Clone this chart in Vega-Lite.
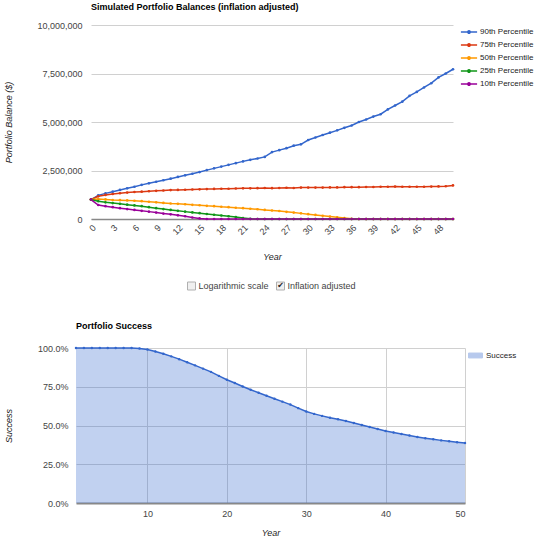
{
  "$schema": "https://vega.github.io/schema/vega-lite/v6.json",
  "background": "white",
  "padding": {"left": 4, "top": 3, "right": 0, "bottom": 0},
  "config": {
    "font": "Liberation Sans",
    "view": {"stroke": null},
    "axis": {
      "labelFont": "Liberation Sans",
      "labelFontSize": 9,
      "labelColor": "#444",
      "titleFont": "Liberation Sans",
      "titleFontSize": 9,
      "titleFontStyle": "italic",
      "titleFontWeight": "normal",
      "titleColor": "#222",
      "ticks": false,
      "domain": false,
      "gridColor": "#d0d0d0"
    },
    "title": {"font": "Liberation Sans", "fontSize": 9, "fontWeight": "bold", "anchor": "start", "frame": "group", "color": "#000"},
    "legend": {"labelFont": "Liberation Sans", "labelFontSize": 8, "labelColor": "#222", "title": null}
  },
  "resolve": {"scale": {"color": "independent"}, "legend": {"color": "independent"}},
  "spacing": 18,
  "vconcat": [
    {
      "spacing": -73,
      "hconcat": [
        {"width": 1, "height": 1, "data": {"values": []}, "mark": "point"},
        {
          "width": 362,
          "height": 194,
          "title": {"text": "Simulated Portfolio Balances (inflation adjusted)", "offset": 9},
          "data": {
            "values": [
              {"Year": 0, "Series": "90th Percentile", "Balance": 1000000},
              {"Year": 1, "Series": "90th Percentile", "Balance": 1220000},
              {"Year": 2, "Series": "90th Percentile", "Balance": 1320000},
              {"Year": 3, "Series": "90th Percentile", "Balance": 1410000},
              {"Year": 4, "Series": "90th Percentile", "Balance": 1500000},
              {"Year": 5, "Series": "90th Percentile", "Balance": 1580000},
              {"Year": 6, "Series": "90th Percentile", "Balance": 1660000},
              {"Year": 7, "Series": "90th Percentile", "Balance": 1760000},
              {"Year": 8, "Series": "90th Percentile", "Balance": 1840000},
              {"Year": 9, "Series": "90th Percentile", "Balance": 1920000},
              {"Year": 10, "Series": "90th Percentile", "Balance": 2000000},
              {"Year": 11, "Series": "90th Percentile", "Balance": 2080000},
              {"Year": 12, "Series": "90th Percentile", "Balance": 2170000},
              {"Year": 13, "Series": "90th Percentile", "Balance": 2250000},
              {"Year": 14, "Series": "90th Percentile", "Balance": 2330000},
              {"Year": 15, "Series": "90th Percentile", "Balance": 2420000},
              {"Year": 16, "Series": "90th Percentile", "Balance": 2520000},
              {"Year": 17, "Series": "90th Percentile", "Balance": 2610000},
              {"Year": 18, "Series": "90th Percentile", "Balance": 2700000},
              {"Year": 19, "Series": "90th Percentile", "Balance": 2790000},
              {"Year": 20, "Series": "90th Percentile", "Balance": 2880000},
              {"Year": 21, "Series": "90th Percentile", "Balance": 2970000},
              {"Year": 22, "Series": "90th Percentile", "Balance": 3050000},
              {"Year": 23, "Series": "90th Percentile", "Balance": 3120000},
              {"Year": 24, "Series": "90th Percentile", "Balance": 3200000},
              {"Year": 25, "Series": "90th Percentile", "Balance": 3450000},
              {"Year": 26, "Series": "90th Percentile", "Balance": 3550000},
              {"Year": 27, "Series": "90th Percentile", "Balance": 3650000},
              {"Year": 28, "Series": "90th Percentile", "Balance": 3780000},
              {"Year": 29, "Series": "90th Percentile", "Balance": 3850000},
              {"Year": 30, "Series": "90th Percentile", "Balance": 4070000},
              {"Year": 31, "Series": "90th Percentile", "Balance": 4200000},
              {"Year": 32, "Series": "90th Percentile", "Balance": 4330000},
              {"Year": 33, "Series": "90th Percentile", "Balance": 4450000},
              {"Year": 34, "Series": "90th Percentile", "Balance": 4570000},
              {"Year": 35, "Series": "90th Percentile", "Balance": 4700000},
              {"Year": 36, "Series": "90th Percentile", "Balance": 4820000},
              {"Year": 37, "Series": "90th Percentile", "Balance": 5000000},
              {"Year": 38, "Series": "90th Percentile", "Balance": 5130000},
              {"Year": 39, "Series": "90th Percentile", "Balance": 5280000},
              {"Year": 40, "Series": "90th Percentile", "Balance": 5400000},
              {"Year": 41, "Series": "90th Percentile", "Balance": 5650000},
              {"Year": 42, "Series": "90th Percentile", "Balance": 5850000},
              {"Year": 43, "Series": "90th Percentile", "Balance": 6050000},
              {"Year": 44, "Series": "90th Percentile", "Balance": 6350000},
              {"Year": 45, "Series": "90th Percentile", "Balance": 6550000},
              {"Year": 46, "Series": "90th Percentile", "Balance": 6780000},
              {"Year": 47, "Series": "90th Percentile", "Balance": 7000000},
              {"Year": 48, "Series": "90th Percentile", "Balance": 7300000},
              {"Year": 49, "Series": "90th Percentile", "Balance": 7500000},
              {"Year": 50, "Series": "90th Percentile", "Balance": 7720000},
              {"Year": 0, "Series": "75th Percentile", "Balance": 1000000},
              {"Year": 1, "Series": "75th Percentile", "Balance": 1170000},
              {"Year": 2, "Series": "75th Percentile", "Balance": 1240000},
              {"Year": 3, "Series": "75th Percentile", "Balance": 1290000},
              {"Year": 4, "Series": "75th Percentile", "Balance": 1330000},
              {"Year": 5, "Series": "75th Percentile", "Balance": 1360000},
              {"Year": 6, "Series": "75th Percentile", "Balance": 1390000},
              {"Year": 7, "Series": "75th Percentile", "Balance": 1410000},
              {"Year": 8, "Series": "75th Percentile", "Balance": 1430000},
              {"Year": 9, "Series": "75th Percentile", "Balance": 1450000},
              {"Year": 10, "Series": "75th Percentile", "Balance": 1470000},
              {"Year": 11, "Series": "75th Percentile", "Balance": 1490000},
              {"Year": 12, "Series": "75th Percentile", "Balance": 1500000},
              {"Year": 13, "Series": "75th Percentile", "Balance": 1510000},
              {"Year": 14, "Series": "75th Percentile", "Balance": 1520000},
              {"Year": 15, "Series": "75th Percentile", "Balance": 1530000},
              {"Year": 16, "Series": "75th Percentile", "Balance": 1540000},
              {"Year": 17, "Series": "75th Percentile", "Balance": 1550000},
              {"Year": 18, "Series": "75th Percentile", "Balance": 1560000},
              {"Year": 19, "Series": "75th Percentile", "Balance": 1560000},
              {"Year": 20, "Series": "75th Percentile", "Balance": 1570000},
              {"Year": 21, "Series": "75th Percentile", "Balance": 1580000},
              {"Year": 22, "Series": "75th Percentile", "Balance": 1580000},
              {"Year": 23, "Series": "75th Percentile", "Balance": 1590000},
              {"Year": 24, "Series": "75th Percentile", "Balance": 1600000},
              {"Year": 25, "Series": "75th Percentile", "Balance": 1590000},
              {"Year": 26, "Series": "75th Percentile", "Balance": 1600000},
              {"Year": 27, "Series": "75th Percentile", "Balance": 1610000},
              {"Year": 28, "Series": "75th Percentile", "Balance": 1600000},
              {"Year": 29, "Series": "75th Percentile", "Balance": 1620000},
              {"Year": 30, "Series": "75th Percentile", "Balance": 1620000},
              {"Year": 31, "Series": "75th Percentile", "Balance": 1620000},
              {"Year": 32, "Series": "75th Percentile", "Balance": 1620000},
              {"Year": 33, "Series": "75th Percentile", "Balance": 1630000},
              {"Year": 34, "Series": "75th Percentile", "Balance": 1630000},
              {"Year": 35, "Series": "75th Percentile", "Balance": 1640000},
              {"Year": 36, "Series": "75th Percentile", "Balance": 1640000},
              {"Year": 37, "Series": "75th Percentile", "Balance": 1640000},
              {"Year": 38, "Series": "75th Percentile", "Balance": 1650000},
              {"Year": 39, "Series": "75th Percentile", "Balance": 1650000},
              {"Year": 40, "Series": "75th Percentile", "Balance": 1660000},
              {"Year": 41, "Series": "75th Percentile", "Balance": 1660000},
              {"Year": 42, "Series": "75th Percentile", "Balance": 1670000},
              {"Year": 43, "Series": "75th Percentile", "Balance": 1660000},
              {"Year": 44, "Series": "75th Percentile", "Balance": 1660000},
              {"Year": 45, "Series": "75th Percentile", "Balance": 1660000},
              {"Year": 46, "Series": "75th Percentile", "Balance": 1660000},
              {"Year": 47, "Series": "75th Percentile", "Balance": 1670000},
              {"Year": 48, "Series": "75th Percentile", "Balance": 1680000},
              {"Year": 49, "Series": "75th Percentile", "Balance": 1690000},
              {"Year": 50, "Series": "75th Percentile", "Balance": 1730000},
              {"Year": 0, "Series": "50th Percentile", "Balance": 1000000},
              {"Year": 1, "Series": "50th Percentile", "Balance": 1030000},
              {"Year": 2, "Series": "50th Percentile", "Balance": 1010000},
              {"Year": 3, "Series": "50th Percentile", "Balance": 980000},
              {"Year": 4, "Series": "50th Percentile", "Balance": 970000},
              {"Year": 5, "Series": "50th Percentile", "Balance": 960000},
              {"Year": 6, "Series": "50th Percentile", "Balance": 940000},
              {"Year": 7, "Series": "50th Percentile", "Balance": 920000},
              {"Year": 8, "Series": "50th Percentile", "Balance": 890000},
              {"Year": 9, "Series": "50th Percentile", "Balance": 860000},
              {"Year": 10, "Series": "50th Percentile", "Balance": 830000},
              {"Year": 11, "Series": "50th Percentile", "Balance": 800000},
              {"Year": 12, "Series": "50th Percentile", "Balance": 780000},
              {"Year": 13, "Series": "50th Percentile", "Balance": 760000},
              {"Year": 14, "Series": "50th Percentile", "Balance": 730000},
              {"Year": 15, "Series": "50th Percentile", "Balance": 710000},
              {"Year": 16, "Series": "50th Percentile", "Balance": 680000},
              {"Year": 17, "Series": "50th Percentile", "Balance": 660000},
              {"Year": 18, "Series": "50th Percentile", "Balance": 630000},
              {"Year": 19, "Series": "50th Percentile", "Balance": 610000},
              {"Year": 20, "Series": "50th Percentile", "Balance": 580000},
              {"Year": 21, "Series": "50th Percentile", "Balance": 560000},
              {"Year": 22, "Series": "50th Percentile", "Balance": 530000},
              {"Year": 23, "Series": "50th Percentile", "Balance": 500000},
              {"Year": 24, "Series": "50th Percentile", "Balance": 470000},
              {"Year": 25, "Series": "50th Percentile", "Balance": 440000},
              {"Year": 26, "Series": "50th Percentile", "Balance": 410000},
              {"Year": 27, "Series": "50th Percentile", "Balance": 370000},
              {"Year": 28, "Series": "50th Percentile", "Balance": 330000},
              {"Year": 29, "Series": "50th Percentile", "Balance": 290000},
              {"Year": 30, "Series": "50th Percentile", "Balance": 250000},
              {"Year": 31, "Series": "50th Percentile", "Balance": 210000},
              {"Year": 32, "Series": "50th Percentile", "Balance": 170000},
              {"Year": 33, "Series": "50th Percentile", "Balance": 130000},
              {"Year": 34, "Series": "50th Percentile", "Balance": 90000},
              {"Year": 35, "Series": "50th Percentile", "Balance": 50000},
              {"Year": 36, "Series": "50th Percentile", "Balance": 10000},
              {"Year": 37, "Series": "50th Percentile", "Balance": 0},
              {"Year": 38, "Series": "50th Percentile", "Balance": 0},
              {"Year": 39, "Series": "50th Percentile", "Balance": 0},
              {"Year": 40, "Series": "50th Percentile", "Balance": 0},
              {"Year": 41, "Series": "50th Percentile", "Balance": 0},
              {"Year": 42, "Series": "50th Percentile", "Balance": 0},
              {"Year": 43, "Series": "50th Percentile", "Balance": 0},
              {"Year": 44, "Series": "50th Percentile", "Balance": 0},
              {"Year": 45, "Series": "50th Percentile", "Balance": 0},
              {"Year": 46, "Series": "50th Percentile", "Balance": 0},
              {"Year": 47, "Series": "50th Percentile", "Balance": 0},
              {"Year": 48, "Series": "50th Percentile", "Balance": 0},
              {"Year": 49, "Series": "50th Percentile", "Balance": 0},
              {"Year": 50, "Series": "50th Percentile", "Balance": 0},
              {"Year": 0, "Series": "25th Percentile", "Balance": 1000000},
              {"Year": 1, "Series": "25th Percentile", "Balance": 920000},
              {"Year": 2, "Series": "25th Percentile", "Balance": 860000},
              {"Year": 3, "Series": "25th Percentile", "Balance": 820000},
              {"Year": 4, "Series": "25th Percentile", "Balance": 780000},
              {"Year": 5, "Series": "25th Percentile", "Balance": 740000},
              {"Year": 6, "Series": "25th Percentile", "Balance": 700000},
              {"Year": 7, "Series": "25th Percentile", "Balance": 660000},
              {"Year": 8, "Series": "25th Percentile", "Balance": 610000},
              {"Year": 9, "Series": "25th Percentile", "Balance": 560000},
              {"Year": 10, "Series": "25th Percentile", "Balance": 510000},
              {"Year": 11, "Series": "25th Percentile", "Balance": 470000},
              {"Year": 12, "Series": "25th Percentile", "Balance": 420000},
              {"Year": 13, "Series": "25th Percentile", "Balance": 380000},
              {"Year": 14, "Series": "25th Percentile", "Balance": 340000},
              {"Year": 15, "Series": "25th Percentile", "Balance": 300000},
              {"Year": 16, "Series": "25th Percentile", "Balance": 260000},
              {"Year": 17, "Series": "25th Percentile", "Balance": 220000},
              {"Year": 18, "Series": "25th Percentile", "Balance": 180000},
              {"Year": 19, "Series": "25th Percentile", "Balance": 140000},
              {"Year": 20, "Series": "25th Percentile", "Balance": 100000},
              {"Year": 21, "Series": "25th Percentile", "Balance": 50000},
              {"Year": 22, "Series": "25th Percentile", "Balance": 10000},
              {"Year": 23, "Series": "25th Percentile", "Balance": 0},
              {"Year": 24, "Series": "25th Percentile", "Balance": 0},
              {"Year": 25, "Series": "25th Percentile", "Balance": 0},
              {"Year": 26, "Series": "25th Percentile", "Balance": 0},
              {"Year": 27, "Series": "25th Percentile", "Balance": 0},
              {"Year": 28, "Series": "25th Percentile", "Balance": 0},
              {"Year": 29, "Series": "25th Percentile", "Balance": 0},
              {"Year": 30, "Series": "25th Percentile", "Balance": 0},
              {"Year": 31, "Series": "25th Percentile", "Balance": 0},
              {"Year": 32, "Series": "25th Percentile", "Balance": 0},
              {"Year": 33, "Series": "25th Percentile", "Balance": 0},
              {"Year": 34, "Series": "25th Percentile", "Balance": 0},
              {"Year": 35, "Series": "25th Percentile", "Balance": 0},
              {"Year": 36, "Series": "25th Percentile", "Balance": 0},
              {"Year": 37, "Series": "25th Percentile", "Balance": 0},
              {"Year": 38, "Series": "25th Percentile", "Balance": 0},
              {"Year": 39, "Series": "25th Percentile", "Balance": 0},
              {"Year": 40, "Series": "25th Percentile", "Balance": 0},
              {"Year": 41, "Series": "25th Percentile", "Balance": 0},
              {"Year": 42, "Series": "25th Percentile", "Balance": 0},
              {"Year": 43, "Series": "25th Percentile", "Balance": 0},
              {"Year": 44, "Series": "25th Percentile", "Balance": 0},
              {"Year": 45, "Series": "25th Percentile", "Balance": 0},
              {"Year": 46, "Series": "25th Percentile", "Balance": 0},
              {"Year": 47, "Series": "25th Percentile", "Balance": 0},
              {"Year": 48, "Series": "25th Percentile", "Balance": 0},
              {"Year": 49, "Series": "25th Percentile", "Balance": 0},
              {"Year": 50, "Series": "25th Percentile", "Balance": 0},
              {"Year": 0, "Series": "10th Percentile", "Balance": 1000000},
              {"Year": 1, "Series": "10th Percentile", "Balance": 720000},
              {"Year": 2, "Series": "10th Percentile", "Balance": 660000},
              {"Year": 3, "Series": "10th Percentile", "Balance": 610000},
              {"Year": 4, "Series": "10th Percentile", "Balance": 560000},
              {"Year": 5, "Series": "10th Percentile", "Balance": 510000},
              {"Year": 6, "Series": "10th Percentile", "Balance": 470000},
              {"Year": 7, "Series": "10th Percentile", "Balance": 420000},
              {"Year": 8, "Series": "10th Percentile", "Balance": 380000},
              {"Year": 9, "Series": "10th Percentile", "Balance": 330000},
              {"Year": 10, "Series": "10th Percentile", "Balance": 280000},
              {"Year": 11, "Series": "10th Percentile", "Balance": 240000},
              {"Year": 12, "Series": "10th Percentile", "Balance": 190000},
              {"Year": 13, "Series": "10th Percentile", "Balance": 140000},
              {"Year": 14, "Series": "10th Percentile", "Balance": 80000},
              {"Year": 15, "Series": "10th Percentile", "Balance": 30000},
              {"Year": 16, "Series": "10th Percentile", "Balance": 0},
              {"Year": 17, "Series": "10th Percentile", "Balance": 0},
              {"Year": 18, "Series": "10th Percentile", "Balance": 0},
              {"Year": 19, "Series": "10th Percentile", "Balance": 0},
              {"Year": 20, "Series": "10th Percentile", "Balance": 0},
              {"Year": 21, "Series": "10th Percentile", "Balance": 0},
              {"Year": 22, "Series": "10th Percentile", "Balance": 0},
              {"Year": 23, "Series": "10th Percentile", "Balance": 0},
              {"Year": 24, "Series": "10th Percentile", "Balance": 0},
              {"Year": 25, "Series": "10th Percentile", "Balance": 0},
              {"Year": 26, "Series": "10th Percentile", "Balance": 0},
              {"Year": 27, "Series": "10th Percentile", "Balance": 0},
              {"Year": 28, "Series": "10th Percentile", "Balance": 0},
              {"Year": 29, "Series": "10th Percentile", "Balance": 0},
              {"Year": 30, "Series": "10th Percentile", "Balance": 0},
              {"Year": 31, "Series": "10th Percentile", "Balance": 0},
              {"Year": 32, "Series": "10th Percentile", "Balance": 0},
              {"Year": 33, "Series": "10th Percentile", "Balance": 0},
              {"Year": 34, "Series": "10th Percentile", "Balance": 0},
              {"Year": 35, "Series": "10th Percentile", "Balance": 0},
              {"Year": 36, "Series": "10th Percentile", "Balance": 0},
              {"Year": 37, "Series": "10th Percentile", "Balance": 0},
              {"Year": 38, "Series": "10th Percentile", "Balance": 0},
              {"Year": 39, "Series": "10th Percentile", "Balance": 0},
              {"Year": 40, "Series": "10th Percentile", "Balance": 0},
              {"Year": 41, "Series": "10th Percentile", "Balance": 0},
              {"Year": 42, "Series": "10th Percentile", "Balance": 0},
              {"Year": 43, "Series": "10th Percentile", "Balance": 0},
              {"Year": 44, "Series": "10th Percentile", "Balance": 0},
              {"Year": 45, "Series": "10th Percentile", "Balance": 0},
              {"Year": 46, "Series": "10th Percentile", "Balance": 0},
              {"Year": 47, "Series": "10th Percentile", "Balance": 0},
              {"Year": 48, "Series": "10th Percentile", "Balance": 0},
              {"Year": 49, "Series": "10th Percentile", "Balance": 0},
              {"Year": 50, "Series": "10th Percentile", "Balance": 0}
            ]
          },
          "mark": {"type": "line", "strokeWidth": 1.5, "point": {"filled": true, "size": 7}},
          "encoding": {
            "x": {
              "field": "Year",
              "type": "quantitative",
              "scale": {"domain": [0, 50], "nice": false},
              "axis": {
                "values": [0, 3, 6, 9, 12, 15, 18, 21, 24, 27, 30, 33, 36, 39, 42, 45, 48],
                "labelAngle": -45,
                "labelAlign": "right",
                "labelBaseline": "top",
                "labelPadding": 4,
                "grid": false,
                "domain": true,
                "domainColor": "#888",
                "domainWidth": 1.5,
                "titlePadding": 16
              }
            },
            "y": {
              "field": "Balance",
              "type": "quantitative",
              "scale": {"domain": [0, 10000000], "nice": false},
              "axis": {
                "values": [0, 2500000, 5000000, 7500000, 10000000],
                "format": ",.0f",
                "title": "Portfolio Balance ($)",
                "labelPadding": 9,
                "titlePadding": 23
              }
            },
            "color": {
              "field": "Series",
              "type": "nominal",
              "sort": null,
              "scale": {
                "domain": ["90th Percentile", "75th Percentile", "50th Percentile", "25th Percentile", "10th Percentile"],
                "range": ["#3366cc", "#dc3912", "#ff9900", "#109618", "#990099"]
              },
              "legend": {
                "symbolType": "M-1.35,0H1.35M0.2,0A0.2,0.2 0 1,1 -0.2,0A0.2,0.2 0 1,1 0.2,0",
                "symbolSize": 144,
                "symbolStrokeWidth": 1.5,
                "offset": 6,
                "padding": 0,
                "rowPadding": 1,
                "labelOffset": 4
              }
            }
          }
        }
      ]
    },
    {
      "resolve": {"scale": {"color": "independent"}, "legend": {"color": "independent"}},
      "spacing": 30,
      "vconcat": [
        {
          "width": 300,
          "height": 12,
          "data": {
            "values": [
              {"Option": "Logarithmic scale", "Checked": false},
              {"Option": "Inflation adjusted", "Checked": true}
            ]
          },
          "encoding": {
            "x": {"field": "Option", "type": "nominal", "sort": null, "scale": {"type": "point", "padding": 0, "range": [115.5, 204.5]}, "axis": null}
          },
          "layer": [
            {"mark": {"type": "point", "shape": "square", "size": 64, "filled": true, "fill": "#f0f0f0", "stroke": "#b0b0b0", "strokeWidth": 1, "opacity": 1}},
            {"mark": {"type": "text", "align": "left", "baseline": "middle", "dx": 7, "fontSize": 9, "color": "#444"}, "encoding": {"text": {"field": "Option"}}},
            {"transform": [{"filter": "datum.Checked"}], "mark": {"type": "text", "text": "✔", "baseline": "middle", "fontSize": 8, "font": "DejaVu Sans", "color": "#222"}}
          ]
        },
        {
          "width": 389,
          "height": 155,
          "title": {"text": "Portfolio Success", "offset": 13},
          "data": {
            "values": [
              {"Year": 1, "Success": 1.0},
              {"Year": 2, "Success": 1.0},
              {"Year": 3, "Success": 1.0},
              {"Year": 4, "Success": 1.0},
              {"Year": 5, "Success": 1.0},
              {"Year": 6, "Success": 1.0},
              {"Year": 7, "Success": 1.0},
              {"Year": 8, "Success": 1.0},
              {"Year": 9, "Success": 0.997},
              {"Year": 10, "Success": 0.99},
              {"Year": 11, "Success": 0.978},
              {"Year": 12, "Success": 0.963},
              {"Year": 13, "Success": 0.946},
              {"Year": 14, "Success": 0.928},
              {"Year": 15, "Success": 0.908},
              {"Year": 16, "Success": 0.888},
              {"Year": 17, "Success": 0.867},
              {"Year": 18, "Success": 0.846},
              {"Year": 19, "Success": 0.82},
              {"Year": 20, "Success": 0.795},
              {"Year": 21, "Success": 0.774},
              {"Year": 22, "Success": 0.752},
              {"Year": 23, "Success": 0.731},
              {"Year": 24, "Success": 0.711},
              {"Year": 25, "Success": 0.692},
              {"Year": 26, "Success": 0.673},
              {"Year": 27, "Success": 0.654},
              {"Year": 28, "Success": 0.635},
              {"Year": 29, "Success": 0.612},
              {"Year": 30, "Success": 0.59},
              {"Year": 31, "Success": 0.575},
              {"Year": 32, "Success": 0.562},
              {"Year": 33, "Success": 0.55},
              {"Year": 34, "Success": 0.54},
              {"Year": 35, "Success": 0.529},
              {"Year": 36, "Success": 0.516},
              {"Year": 37, "Success": 0.503},
              {"Year": 38, "Success": 0.49},
              {"Year": 39, "Success": 0.477},
              {"Year": 40, "Success": 0.465},
              {"Year": 41, "Success": 0.455},
              {"Year": 42, "Success": 0.445},
              {"Year": 43, "Success": 0.435},
              {"Year": 44, "Success": 0.426},
              {"Year": 45, "Success": 0.418},
              {"Year": 46, "Success": 0.411},
              {"Year": 47, "Success": 0.404},
              {"Year": 48, "Success": 0.398},
              {"Year": 49, "Success": 0.392},
              {"Year": 50, "Success": 0.387}
            ]
          },
          "mark": {
            "type": "area",
            "opacity": 0.3,
            "line": {"color": "#3366cc", "strokeWidth": 1.5, "opacity": 1},
            "point": {"color": "#3366cc", "filled": true, "size": 6, "opacity": 1}
          },
          "encoding": {
            "x": {
              "field": "Year",
              "type": "quantitative",
              "scale": {"domain": [1, 50], "nice": false},
              "axis": {
                "values": [10, 20, 30, 40, 50],
                "labelAngle": 0,
                "labelPadding": 6,
                "domain": true,
                "domainColor": "#888",
                "domainWidth": 2,
                "titlePadding": 10
              }
            },
            "y": {
              "field": "Success",
              "type": "quantitative",
              "scale": {"domain": [0, 1], "nice": false},
              "axis": {
                "values": [0, 0.25, 0.5, 0.75, 1],
                "format": ".1%",
                "labelPadding": 8,
                "titlePadding": 24
              }
            },
            "color": {
              "datum": "Success",
              "type": "nominal",
              "scale": {"range": ["#3366cc"]},
              "legend": {
                "symbolType": "M-1,-0.35H1V0.35H-1Z",
                "symbolSize": 196,
                "symbolOpacity": 0.35,
                "symbolStrokeColor": "#3366cc",
                "symbolStrokeWidth": 1,
                "offset": 3,
                "padding": 0,
                "labelOffset": 3
              }
            }
          }
        }
      ]
    }
  ]
}
